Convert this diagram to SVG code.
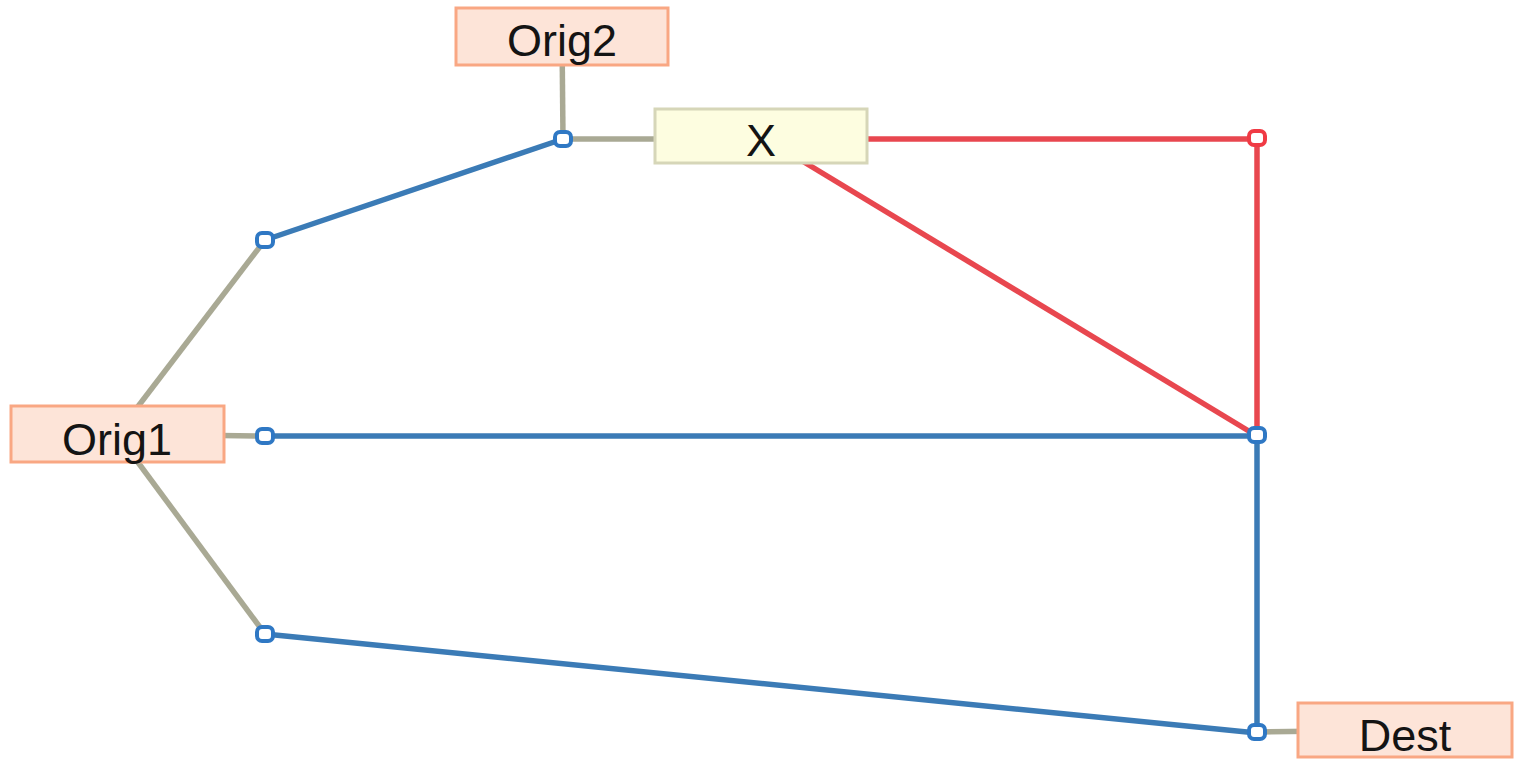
<svg xmlns="http://www.w3.org/2000/svg" width="1515" height="759" viewBox="0 0 1515 759">
<style>
.box{fill:#fde4d8;stroke:#f9a783;stroke-width:3}
.xbox{fill:#fdfde0;stroke:#d6d6b8;stroke-width:3}
.lbl{font-family:"Liberation Sans",Arial,sans-serif;font-size:45px;fill:#141414;text-anchor:middle}
.g{stroke:#a9a994;stroke-width:5.5;fill:none}
.b{stroke:#3b7bb6;stroke-width:5.5;fill:none}
.r{stroke:#e8474f;stroke-width:5.5;fill:none}
.jb{fill:#ffffff;stroke:#2f78c4;stroke-width:4}
.jr{fill:#ffffff;stroke:#f03a44;stroke-width:4}
</style>
<rect width="1515" height="759" fill="#ffffff"/>
<g id="connectors">
<line class="g" x1="562" y1="36" x2="563" y2="139"/>
<line class="g" x1="563" y1="139" x2="761" y2="139"/>
<line class="g" x1="117" y1="434" x2="265" y2="240"/>
<line class="g" x1="117" y1="434" x2="265" y2="436"/>
<line class="g" x1="117" y1="434" x2="265" y2="634"/>
<line class="g" x1="1257" y1="732" x2="1405" y2="730"/>
<line class="b" x1="265" y1="240" x2="563" y2="139"/>
<line class="b" x1="265" y1="436" x2="1257" y2="436"/>
<line class="b" x1="265" y1="634" x2="1257" y2="733"/>
<line class="b" x1="1257" y1="436" x2="1257" y2="733"/>
<line class="r" x1="761" y1="139" x2="1257" y2="139"/>
<line class="r" x1="761" y1="136" x2="1257" y2="436"/>
<line class="r" x1="1257" y1="139" x2="1257" y2="436"/>
</g>
<g id="Orig2">
<rect class="box" x="456" y="8" width="212" height="57"/>
<text class="lbl" x="562" y="56">Orig2</text>
</g>
<g id="X">
<rect class="xbox" x="655" y="109" width="212" height="54"/>
<text class="lbl" x="761" y="156">X</text>
</g>
<g id="Orig1">
<rect class="box" x="11" y="406" width="213" height="56"/>
<text class="lbl" x="117" y="455">Orig1</text>
</g>
<g id="Dest">
<rect class="box" x="1298" y="703" width="214" height="54"/>
<text class="lbl" x="1405" y="751">Dest</text>
</g>
<g id="junctions">
<rect class="jb" x="555" y="132" width="16" height="14" rx="5"/>
<rect class="jb" x="257" y="233" width="16" height="14" rx="5"/>
<rect class="jb" x="257" y="429" width="16" height="14" rx="5"/>
<rect class="jb" x="257" y="627" width="16" height="14" rx="5"/>
<rect class="jr" x="1249" y="131" width="16" height="14" rx="5"/>
<rect class="jb" x="1249" y="428" width="16" height="14" rx="5"/>
<rect class="jb" x="1249" y="725" width="16" height="14" rx="5"/>
</g>
</svg>
